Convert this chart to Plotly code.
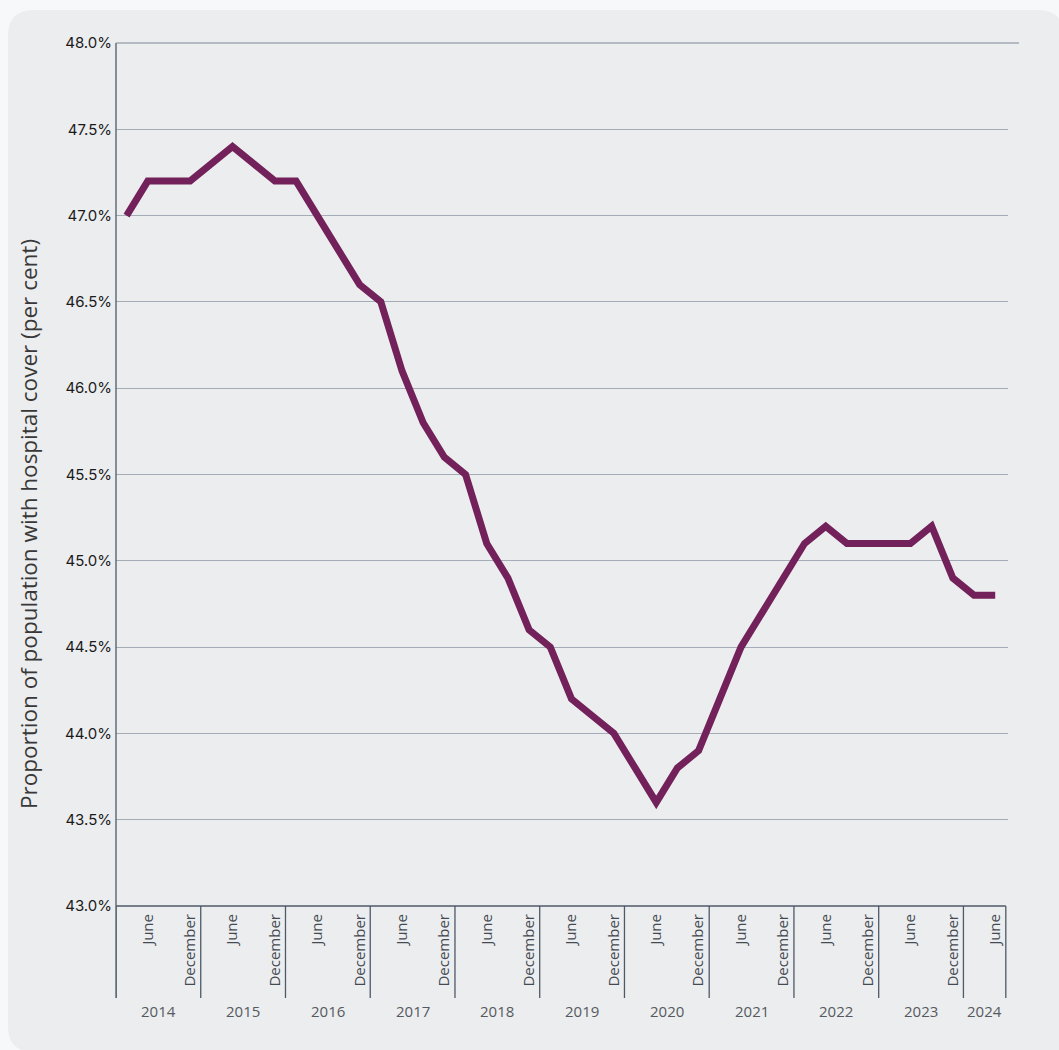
import plotly.graph_objects as go

# ---- data (quarterly, March 2014 .. June 2024) ----
quarters = [f"{m} {y}" for y in range(2014, 2025) for m in ("March", "June", "September", "December")][:42]
coverage = [47.0, 47.2, 47.2, 47.2,
            47.3, 47.4, 47.3, 47.2,
            47.2, 47.0, 46.8, 46.6,
            46.5, 46.1, 45.8, 45.6,
            45.5, 45.1, 44.9, 44.6,
            44.5, 44.2, 44.1, 44.0,
            43.8, 43.6, 43.8, 43.9,
            44.2, 44.5, 44.7, 44.9,
            45.1, 45.2, 45.1, 45.1,
            45.1, 45.1, 45.2, 44.9,
            44.8, 44.8]
years = ["2014", "2015", "2016", "2017", "2018", "2019", "2020", "2021", "2022", "2023", "2024"]
y_ticks = [43.0, 43.5, 44.0, 44.5, 45.0, 45.5, 46.0, 46.5, 47.0, 47.5, 48.0]

xs = list(range(len(coverage)))
tick_idx = [i for i, q in enumerate(quarters) if q.startswith("June") or q.startswith("December")]
tick_txt = [quarters[i].split(" ")[0] for i in tick_idx]

W, H = 1059, 1050
L, R, T, B = 116, 1008, 43, 906
pw, ph = R - L, B - T


def px(xp):
    return (xp - L) / pw


def py(yp):
    return (B - yp) / ph


fig = go.Figure()
fig.add_trace(go.Scatter(x=xs, y=coverage, mode="lines",
                         line=dict(color="#73215a", width=7),
                         hoverinfo="skip", showlegend=False))

shapes = []
# rounded background panel
x0, y0, x1, y1 = px(8), py(10), px(1064), py(1052)
rx, ry = 26 / pw, 26 / ph
path = (f"M {x0+rx},{y0} L {x1-rx},{y0} Q {x1},{y0} {x1},{y0-ry} "
        f"L {x1},{y1} L {x0+rx},{y1} Q {x0},{y1} {x0},{y1+ry} "
        f"L {x0},{y0-ry} Q {x0},{y0} {x0+rx},{y0} Z")
shapes.append(dict(type="path", xref="paper", yref="paper", path=path,
                   fillcolor="#ecedef", line=dict(width=0), layer="below"))

axis_col = "#4f5968"
sep_bottom = py(998)
# y axis line
shapes.append(dict(type="line", xref="paper", yref="paper", x0=0, x1=0, y0=1, y1=sep_bottom,
                   line=dict(color=axis_col, width=1.3)))
# top gridline extends a little further
shapes.append(dict(type="line", xref="paper", yref="paper", x0=0, x1=px(1019), y0=1, y1=1,
                   line=dict(color="#7d8795", width=1.2)))
# year separators
n_years = len(years)
bounds = [-0.5 + 4 * k for k in range(n_years)] + [len(coverage) - 0.5]
for b in bounds:
    shapes.append(dict(type="line", xref="x", yref="paper", x0=b, x1=b, y0=0, y1=sep_bottom,
                       line=dict(color=axis_col, width=1.3)))
# x axis line
shapes.append(dict(type="line", xref="x", yref="paper", x0=-0.5, x1=len(coverage) - 0.5,
                   y0=0, y1=0, line=dict(color=axis_col, width=1.5)))

annotations = []
for k, yr in enumerate(years):
    a, b = bounds[k], bounds[k + 1]
    annotations.append(dict(x=(a + b) / 2, y=py(1011), xref="x", yref="paper", text=yr,
                            showarrow=False, xanchor="center", yanchor="middle",
                            font=dict(family="Open Sans", size=15, color="#555a60")))
annotations.append(dict(x=px(28), y=py(524), xref="paper", yref="paper",
                        text="Proportion of population with hospital cover (per cent)",
                        textangle=-90, showarrow=False, xanchor="center", yanchor="middle",
                        font=dict(family="Open Sans", size=22.5, color="#383838")))

fig.update_layout(
    width=W, height=H,
    margin=dict(l=L, r=W - R, t=T, b=H - B, pad=0),
    paper_bgcolor="#f7f8fa", plot_bgcolor="rgba(0,0,0,0)",
    shapes=shapes, annotations=annotations, showlegend=False,
    xaxis=dict(range=[-0.5, (R - 126) / 21.2], tickmode="array", tickvals=tick_idx,
               ticktext=tick_txt, tickangle=-90, showgrid=False, zeroline=False,
               showline=False, ticks="", ticklabelstandoff=4,
               tickfont=dict(family="Open Sans", size=15, color="#444a52")),
    yaxis=dict(range=[43.0, 48.0], tickmode="array", tickvals=y_ticks,
               ticktext=[f"{v:.1f}%" for v in y_ticks], showgrid=True,
               gridcolor="#a3acb7", gridwidth=1.2, zeroline=False, showline=False,
               ticks="", ticklabelstandoff=3,
               tickfont=dict(family="Inter", size=15, color="#1a1a1a")),
)

fig.write_html("out.html", config={"displayModeBar": False},
               post_script="document.body.style.margin='0';document.body.style.background='#f7f8fa';")
